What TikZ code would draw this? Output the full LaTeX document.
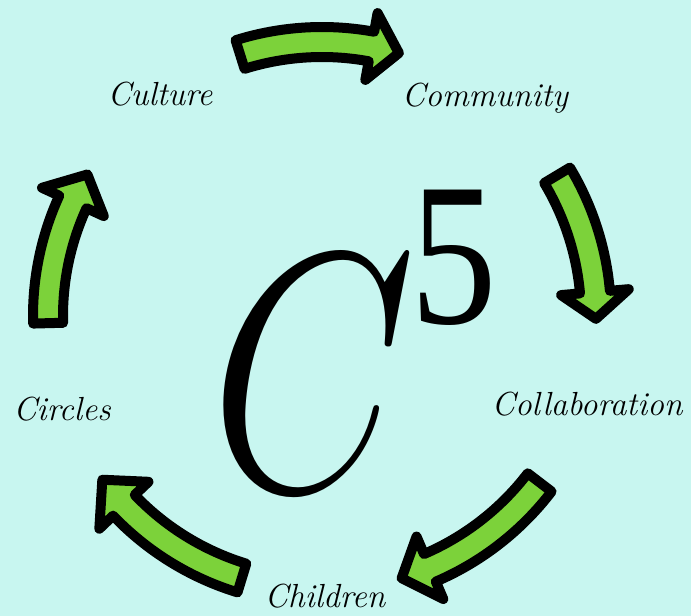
\documentclass[tikz,border=0pt]{standalone}
\usepackage{fontspec}
\newfontfamily\timesfont{Liberation Serif}
\usetikzlibrary{calc}
\definecolor{bgcyan}{RGB}{200,246,240}
\definecolor{leafgreen}{RGB}{124,210,58}
\tikzset{
    word/.style = {font=\fontsize{19}{22}\selectfont\itshape, anchor=base, inner sep=0pt},
    arrowshape/.style = {fill=leafgreen, draw=black, line width=0.2cm, line join=round},
    bigletter/.style = {anchor=base, inner sep=0pt}
}
% curved arrow round (O): tail angle, head base angle, tip angle
\newcommand{\cyclearrow}[3]{%
    \filldraw[arrowshape] ($(O)+(#1:289)$) arc[start angle=#1, end angle=#2, radius=289]
        -- ($(O)+(#2:308)$) -- ($(O)+(#3:274)$) -- ($(O)+(#2:240)$) -- ($(O)+(#2:259)$)
        arc[start angle=#2, end angle=#1, radius=259] -- cycle;}

\begin{document}
\begin{tikzpicture}[x=0.02cm, y=0.02cm]
    \path[use as bounding box, fill=bgcyan] (0,0) rectangle (691,616);
    \coordinate (O) at (322,300);

    \cyclearrow{107.4}{79.6}{73.7}
    \cyclearrow{30.9}{5.0}{-0.6}
    \cyclearrow{-37.4}{-66.8}{-73.1}
    \cyclearrow{-107}{-136.3}{-143.3}
    \cyclearrow{181.5}{155.4}{148.9}

    \node [word] (culture) at (160,510) {Culture};
    \node [word] (community) at (485,509) {Community};
    \node [word] (collab) at (587,200) {Collaboration};
    \node [word] (children) at (325,8) {Children};
    \node [word] (circles) at (62,195) {Circles};

    \node [bigletter, xscale=6.1, yscale=7.8, font=\Huge] (cee) at (313,126) {$C$};
    \node [bigletter, xscale=0.85, font=\timesfont\fontsize{116}{116}\selectfont] (five) at (454,292) {5};
\end{tikzpicture}
\end{document}
